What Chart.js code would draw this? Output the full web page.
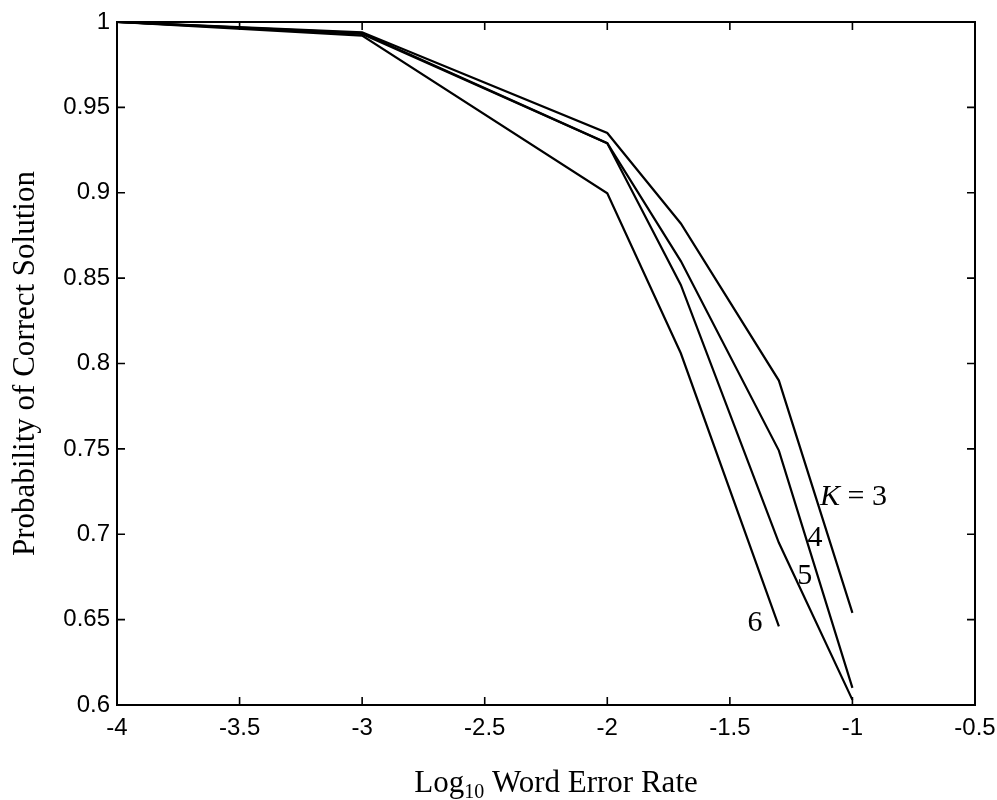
<!DOCTYPE html>
<html>
<head>
<meta charset="utf-8">
<script src="https://cdn.jsdelivr.net/npm/chart.js@4/dist/chart.umd.min.js"></script>
<style>
html,body{margin:0;padding:0;background:#fff;}
#wrap{width:997px;height:800px;position:relative;}
</style>
</head>
<body>
<div id="wrap"><canvas id="c" width="997" height="800"></canvas></div>
<script>
// ---- data ----
const xValues = [-4, -3, -2, -1.7, -1.3, -1];
const k3 = [1, 0.994, 0.935, 0.882, 0.790, 0.654];
const k4 = [1, 0.9935, 0.929, 0.860, 0.749, 0.610];
const k5 = [1, 0.993, 0.929, 0.846, 0.695, 0.603];
const k6 = [1, 0.992, 0.8997, 0.806, 0.646];
const seriesNames = ['K = 3', '4', '5', '6'];
const labelX = [-1.132, -1.153, -1.194, -1.397];
const labelY = [0.722, 0.698, 0.6755, 0.648];
const xTicks = [-4, -3.5, -3, -2.5, -2, -1.5, -1, -0.5];
const yTicks = [0.6, 0.65, 0.7, 0.75, 0.8, 0.85, 0.9, 0.95, 1];
const xTitleMain = 'Log';
const xTitleSub = '10';
const xTitleRest = ' Word Error Rate';
const yTitle = 'Probability of Correct Solution';

const serif = '"Liberation Serif", "Times New Roman", serif';
const sans = '"Liberation Sans", Arial, Helvetica, sans-serif';

function pts(ys){ return ys.map((v,i)=>({x:xValues[i], y:v})); }

const series = [k3, k4, k5, k6];
const datasets = series.map((s,i)=>({
  label: seriesNames[i],
  data: pts(s),
  borderColor: '#000',
  borderWidth: 2.2,
  pointRadius: 0,
  tension: 0,
  fill: false
}));

const boxPlugin = {
  id: 'matlabBox',
  afterDatasetsDraw(chart){
    const {ctx, chartArea:a, scales:{x, y}} = chart;
    ctx.save();
    ctx.strokeStyle = '#000';
    ctx.lineWidth = 2;
    ctx.strokeRect(a.left, a.top, a.right - a.left, a.bottom - a.top);
    ctx.lineWidth = 1.6;
    const tl = 8;
    ctx.beginPath();
    x.ticks.forEach(t => {
      const px = x.getPixelForValue(t.value);
      ctx.moveTo(px, a.bottom); ctx.lineTo(px, a.bottom - tl);
      ctx.moveTo(px, a.top); ctx.lineTo(px, a.top + tl);
    });
    y.ticks.forEach(t => {
      const py = y.getPixelForValue(t.value);
      ctx.moveTo(a.left, py); ctx.lineTo(a.left + tl, py);
      ctx.moveTo(a.right, py); ctx.lineTo(a.right - tl, py);
    });
    ctx.stroke();

    // curve annotations
    ctx.fillStyle = '#000';
    ctx.textBaseline = 'middle';
    seriesNames.forEach((name, i) => {
      const px = x.getPixelForValue(labelX[i]);
      const py = y.getPixelForValue(labelY[i]);
      if (name.startsWith('K')) {
        ctx.textAlign = 'left';
        ctx.font = 'italic 30px ' + serif;
        ctx.fillText('K', px, py);
        const w = ctx.measureText('K').width;
        ctx.font = '30px ' + serif;
        ctx.fillText(name.slice(1), px + w, py);
      } else {
        ctx.textAlign = 'center';
        ctx.font = '30px ' + serif;
        ctx.fillText(name, px, py);
      }
    });

    // x axis title with subscript
    ctx.textBaseline = 'alphabetic';
    ctx.textAlign = 'left';
    ctx.font = '31px ' + serif;
    const wMain = ctx.measureText(xTitleMain).width;
    const wRest = ctx.measureText(xTitleRest).width;
    ctx.font = '20px ' + serif;
    const wSub = ctx.measureText(xTitleSub).width;
    const total = wMain + wSub + wRest;
    const cx = (a.left + a.right) / 2 + 10;
    let sx = cx - total / 2;
    const base = 792;
    ctx.font = '31px ' + serif;
    ctx.fillText(xTitleMain, sx, base);
    ctx.font = '20px ' + serif;
    ctx.fillText(xTitleSub, sx + wMain, base + 6);
    ctx.font = '31px ' + serif;
    ctx.fillText(xTitleRest, sx + wMain + wSub, base);

    // y axis title
    ctx.save();
    ctx.translate(26, (a.top + a.bottom) / 2);
    ctx.rotate(-Math.PI / 2);
    ctx.textAlign = 'center';
    ctx.textBaseline = 'middle';
    ctx.font = '31px ' + serif;
    ctx.fillText(yTitle, 0, 0);
    ctx.restore();

    ctx.restore();
  }
};

new Chart(document.getElementById('c'), {
  type: 'line',
  data: { datasets },
  options: {
    responsive: false,
    animation: false,
    devicePixelRatio: 1,
    layout: { padding: { left: 0, right: 22, top: 22, bottom: 0 } },
    plugins: { legend: { display: false }, tooltip: { enabled: false }, title: { display: false } },
    scales: {
      x: {
        type: 'linear',
        min: -4, max: -0.5,
        afterBuildTicks: s => { s.ticks = xTicks.map(v => ({value: v})); },
        afterFit: s => { s.height = 95; s.paddingLeft = 0; s.paddingRight = 0; },
        grid: { display: false, drawTicks: false },
        border: { display: false },
        ticks: { color: '#000', font: { family: sans, size: 24 }, padding: 9, maxRotation: 0, autoSkip: false,
                  callback: v => String(v) }
      },
      y: {
        type: 'linear',
        min: 0.6, max: 1,
        afterBuildTicks: s => { s.ticks = yTicks.map(v => ({value: v})); },
        afterFit: s => { s.width = 117; s.paddingTop = 0; s.paddingBottom = 0; },
        grid: { display: false, drawTicks: false },
        border: { display: false },
        ticks: { color: '#000', font: { family: sans, size: 24 }, padding: 7, autoSkip: false,
                  callback: v => String(Math.round(v * 100) / 100) }
      }
    }
  },
  plugins: [boxPlugin]
});
</script>
</body>
</html>
